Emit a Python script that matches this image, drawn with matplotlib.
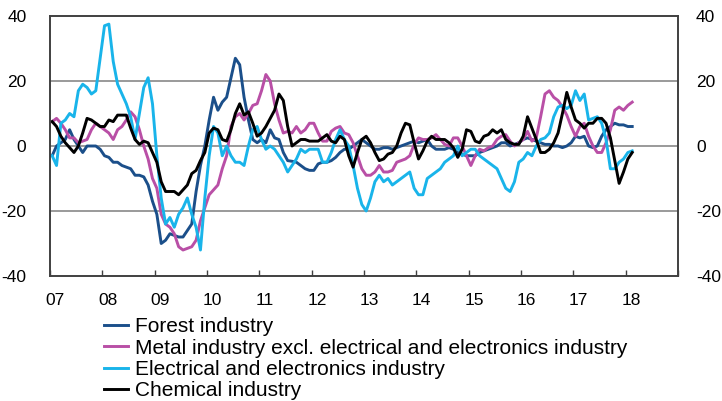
import numpy as np
import matplotlib
matplotlib.use("Agg")
import matplotlib.pyplot as plt

plt.rcParams['font.family'] = ['Liberation Sans', 'DejaVu Sans']
plt.rcParams['axes.unicode_minus'] = False

# monthly observations, Jan 2007 .. Feb 2018
start_year = 2007
forest = [-3, 0, 1, 2, 5, 2, 0, -2, 0, 0, 0, -1, -3, -3.5, -5, -5, -6, -6.5, -7, -9,
          -9, -9.5, -12, -17, -21, -30, -29, -27, -27.5, -28, -28, -26, -24, -14, -6, 0, 8, 15, 11, 13.5,
          15, 21, 27, 25, 15, 8, 2, 1, 2, 1, 5, 2.5, 2, -2, -4.5, -4.7, -5, -6, -7, -7.5,
          -7.5, -5.5, -5, -5, -4.5, -3.5, -2, -1, -1, 0, 1, 2, 1, 0, -1, -1, -0.5, -0.5, -1, -0.5,
          0, 0.5, 1, 1.5, 1, 1.5, 2, 0, -1, -1, -1, -0.5, -1, -2, -2.5, -3, -3, -3, -2, -1.5,
          -1, -0.5, 0, 1, 1, 0, 0.5, 1, 2, 2.5, 2, 1.5, 1, 0.5, 0.5, 0, 0, -0.5, 0, 1,
          3, 2.5, 3, 0, -0.5, 0, 3, 5, 6, 7, 6.5, 6.5, 6, 6]
metal = [7.5, 8.5, 7, 5, 2.5, 2.5, 1, 1.5, 2, 5, 7, 6, 5, 4, 2, 5, 6, 8, 10.5, 9,
         5, 0, -4, -10, -13, -21, -24, -25, -27, -31, -32, -31.5, -31, -29, -23, -19, -15, -13.5, -12, -7,
         -3, 6, 9, 10, 8, 10, 12.5, 13, 17, 22, 20, 13, 8, 4, 4.5, 4, 6, 4, 5, 7,
         7, 4, 1.5, 1.5, 4.5, 5.5, 6, 4, 3.5, 1, -3, -7, -9, -9, -8, -6, -8, -8, -7.5, -5,
         -4.5, -4, -3, 0.5, 2.5, 2, 2, 2.5, 3.5, 2, 0.5, 0, 2.5, 2.5, 0, -3, -6, -3, -1, -1.5,
         -0.5, 0, 2, 3, 3.5, 1.5, 0, 1, 2, 4.5, 1.5, 2.5, 9, 16, 17, 15, 14, 12, 9.5, 6,
         3, 6, 7, 3, 0, -2, -2, 1, 5, 11, 12, 11, 12.5, 13.5]
electrical = [-3, -6, 7, 8, 10, 9, 17, 19, 18, 16, 17, 27, 37, 37.5, 26, 19, 16, 13, 9, 2,
              10, 18, 21, 13, -3, -16, -24, -22, -25, -21, -19, -16, -21, -25, -32, -16, -3, 6, 4, -3,
              0, -3, -5, -5, -6, 0, 5, 6, 2, -1, 0, -1, -3, -5, -8, -6, -4, -1, -2, -1,
              -1, -1, -5, -5, -2, 2, 5, 2, 0, -6, -13, -18, -20, -16, -11, -9, -11, -10, -12, -11,
              -10, -9, -8, -13, -15, -15, -10, -9, -8, -7, -5, -4, -3, 0, -3, -2, -1, -1, -3, -4,
              -5, -6, -7, -10, -13, -14, -11, -5, -4, -2, -3, 0, 2, 2.5, 4, 9, 12, 12.5, 11.5, 12.5,
              17, 14, 16, 8, 8.5, 9, 7, 2, -7, -7, -5, -4, -2, -1.5]
chemical = [7.5, 6, 3, 1, -0.5, -2, 0, 4, 8.5, 8, 7, 6, 6, 8, 7.5, 9.5, 9.5, 9.5, 5.5, 2,
            0.5, 1.5, 1, -2, -5, -11, -14, -14, -14, -15, -13.5, -12, -8.5, -7.5, -4.5, -2, 4, 5.5, 5, 2,
            1.5, 5, 10, 13, 9.5, 10.5, 7, 3, 4, 6, 8.5, 11, 16, 14, 6, 0, 1, 2, 2, 1.5,
            1.5, 1.5, 2.5, 3.5, 1.5, 1, 3, 2, -3, -6.5, -2, 2, 3, 1, -2, -4.5, -4, -2.5, -2, 0,
            4, 7, 6.5, 1, -4, -1.5, 1.5, 3, 2, 2, 2, 1, -0.5, -3.5, -1, 5, 4.5, 1.5, 1, 3,
            3.5, 5, 4, 5, 2, 1, 0.5, 0.5, 3, 9, 5.5, 2, -2, -2, -1, 1, 4, 10, 16.5, 12,
            8, 7, 5.5, 7, 7, 8.5, 8.5, 7, 2.5, -4.5, -11.5, -8, -4, -2]

labels = ["Forest industry",
          "Metal industry excl. electrical and electronics industry",
          "Electrical and electronics industry",
          "Chemical industry"]
colors = ["#1b4f8a", "#b94fa6", "#19b4ea", "#000000"]
year_labels = ["07", "08", "09", "10", "11", "12", "13", "14", "15", "16", "17", "18"]
y_ticks = [-40, -20, 0, 20, 40]

months = np.arange(len(forest))
x = start_year + (months + 0.5) / 12

fig = plt.figure(figsize=(7.22, 4.01), dpi=100)
ax = fig.add_axes([50 / 722, 1 - 276 / 401, 628 / 722, 260 / 401])

for series, lab, col in zip([forest, metal, electrical, chemical], labels, colors):
    ax.plot(x, series, color=col, lw=2.1, label=lab, solid_joinstyle='round')

ax.set_xlim(2007, 2019)
ax.set_ylim(-40, 40)
ax.set_yticks(y_ticks)
for g in [-20, 0, 20]:
    ax.axhline(g, color="#7f7f7f", lw=1.1, zorder=0)

ax.set_xticks(range(2007, 2020))
ax.set_xticklabels([])
ax.set_xticks([y + 0.1 for y in range(2007, 2019)], minor=True)
ax.set_xticklabels(year_labels, minor=True)
ax.tick_params(axis='x', which='major', direction='in', length=4, width=1, color="#404040")
ax.tick_params(axis='x', which='minor', length=0, pad=12, labelsize=12.5)
ax.tick_params(axis='y', length=0, pad=17, labelsize=12.5)

# right-hand labels
ax2 = ax.twinx()
ax2.set_ylim(-40, 40)
ax2.set_yticks(y_ticks)
ax2.tick_params(axis='y', length=0, pad=13, labelsize=12.5)

for a in (ax, ax2):
    for s in a.spines.values():
        s.set_color("#404040")
        s.set_linewidth(1.2)

handles, labs = ax.get_legend_handles_labels()
fig.legend(handles, labs, loc='upper left', bbox_to_anchor=(104 / 722, 1 - 317 / 401), frameon=False,
           fontsize=15, handlelength=1.15, handletextpad=0.35, labelspacing=0.12,
           borderpad=0, borderaxespad=0)

fig.savefig("out.png", dpi=100)
